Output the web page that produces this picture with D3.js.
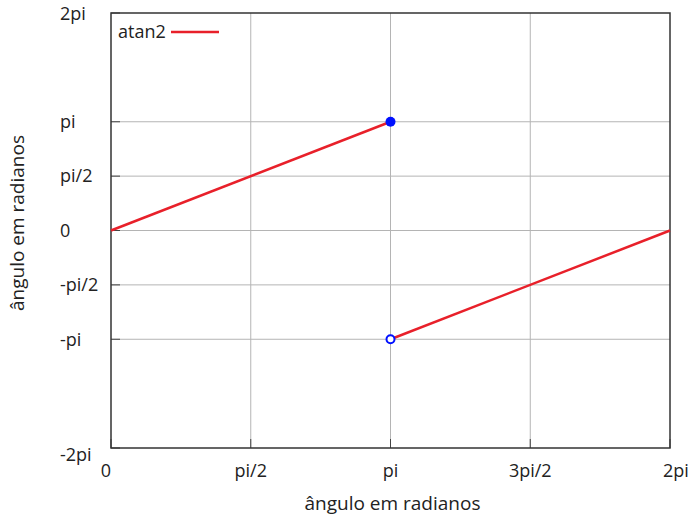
<!DOCTYPE html>
<html>
<head>
<meta charset="utf-8">
<script src="https://cdn.jsdelivr.net/npm/d3@7"></script>
<style>
  body { margin: 0; background: #fff; }
  text { font-family: "Open Sans", sans-serif; fill: #222; }
</style>
</head>
<body>
<svg id="chart" width="690" height="524"></svg>
<script>
var PI = Math.PI;

// tick positions and labels
var xTicks = [0, PI / 2, PI, 3 * PI / 2, 2 * PI];
var xLabels = ["0", "pi/2", "pi", "3pi/2", "2pi"];
var yTicks = [-2 * PI, -PI, -PI / 2, 0, PI / 2, PI, 2 * PI];
var yLabels = ["-2pi", "-pi", "-pi/2", "0", "pi/2", "pi", "2pi"];

// the two branches of atan2
var branch1 = [[0, 0], [PI, PI]];
var branch2 = [[PI, -PI], [2 * PI, 0]];
var closedDot = [[PI, PI]];
var openDot = [[PI, -PI]];

var plotL = 111, plotR = 670, plotT = 13, plotB = 448;
var fs = '18px';

var x = d3.scaleLinear().domain([0, 2 * PI]).range([plotL, plotR]);
var y = d3.scaleLinear().domain([-2 * PI, 2 * PI]).range([plotB, plotT]);

var svg = d3.select('#chart');

// grid
svg.append('g').selectAll('line')
  .data(xTicks.slice(1, -1))
  .enter().append('line')
  .attr('x1', function(d) { return x(d); })
  .attr('x2', function(d) { return x(d); })
  .attr('y1', plotT).attr('y2', plotB)
  .attr('stroke', '#b4b4b4').attr('stroke-width', 1);

svg.append('g').selectAll('line')
  .data(yTicks.slice(1, -1))
  .enter().append('line')
  .attr('y1', function(d) { return y(d); })
  .attr('y2', function(d) { return y(d); })
  .attr('x1', plotL).attr('x2', plotR)
  .attr('stroke', '#b4b4b4').attr('stroke-width', 1);

// tick marks (inside)
svg.append('g').selectAll('line')
  .data(yTicks)
  .enter().append('line')
  .attr('y1', function(d) { return y(d); })
  .attr('y2', function(d) { return y(d); })
  .attr('x1', plotL).attr('x2', plotL + 9)
  .attr('stroke', '#444').attr('stroke-width', 1);

svg.append('g').selectAll('line')
  .data(xTicks)
  .enter().append('line')
  .attr('x1', function(d) { return x(d); })
  .attr('x2', function(d) { return x(d); })
  .attr('y1', plotB).attr('y2', plotB - 9)
  .attr('stroke', '#444').attr('stroke-width', 1);

// frame
svg.append('rect')
  .attr('x', plotL).attr('y', plotT)
  .attr('width', plotR - plotL).attr('height', plotB - plotT)
  .attr('fill', 'none').attr('stroke', '#333').attr('stroke-width', 1.5);

// tick labels
svg.append('g').selectAll('text')
  .data(yTicks)
  .enter().append('text')
  .attr('x', 60)
  .attr('y', function(d, i) { return y(d) + (i === 0 ? 7 : (i === 6 ? 1 : 0)); })
  .attr('dy', '0.35em')
  .style('font-size', fs)
  .text(function(d, i) { return yLabels[i]; });

svg.append('g').selectAll('text')
  .data(xTicks)
  .enter().append('text')
  .attr('x', function(d, i) { return x(d) + (i === 0 ? -5 : (i === 4 ? 6 : 0)); })
  .attr('y', plotB + 29)
  .attr('text-anchor', 'middle')
  .style('font-size', fs)
  .text(function(d, i) { return xLabels[i]; });

// axis titles
svg.append('text')
  .attr('x', x(PI) + 2).attr('y', 510)
  .attr('text-anchor', 'middle')
  .style('font-size', '19px')
  .text('ângulo em radianos');

svg.append('text')
  .attr('transform', 'translate(24,223) rotate(-90)')
  .attr('text-anchor', 'middle')
  .style('font-size', '19px')
  .text('ângulo em radianos');

// lines
var line = d3.line()
  .x(function(d) { return x(d[0]); })
  .y(function(d) { return y(d[1]); });

[branch1, branch2].forEach(function(b) {
  svg.append('path')
    .datum(b)
    .attr('fill', 'none')
    .attr('stroke', '#e8202a')
    .attr('stroke-width', 2.5)
    .attr('d', line);
});

// endpoints
svg.selectAll('.closed')
  .data(closedDot)
  .enter().append('circle')
  .attr('cx', function(d) { return x(d[0]); })
  .attr('cy', function(d) { return y(d[1]); })
  .attr('r', 5)
  .attr('fill', '#0010ff');

svg.selectAll('.open')
  .data(openDot)
  .enter().append('circle')
  .attr('cx', function(d) { return x(d[0]); })
  .attr('cy', function(d) { return y(d[1]); })
  .attr('r', 4)
  .attr('fill', '#fff')
  .attr('stroke', '#0010ff')
  .attr('stroke-width', 2);

// legend
svg.append('text')
  .attr('x', 118).attr('y', 32).attr('dy', '0.35em')
  .style('font-size', fs)
  .text('atan2');
svg.append('line')
  .attr('x1', 171).attr('x2', 219)
  .attr('y1', 32).attr('y2', 32)
  .attr('stroke', '#e8202a').attr('stroke-width', 2.5);
</script>
</body>
</html>
